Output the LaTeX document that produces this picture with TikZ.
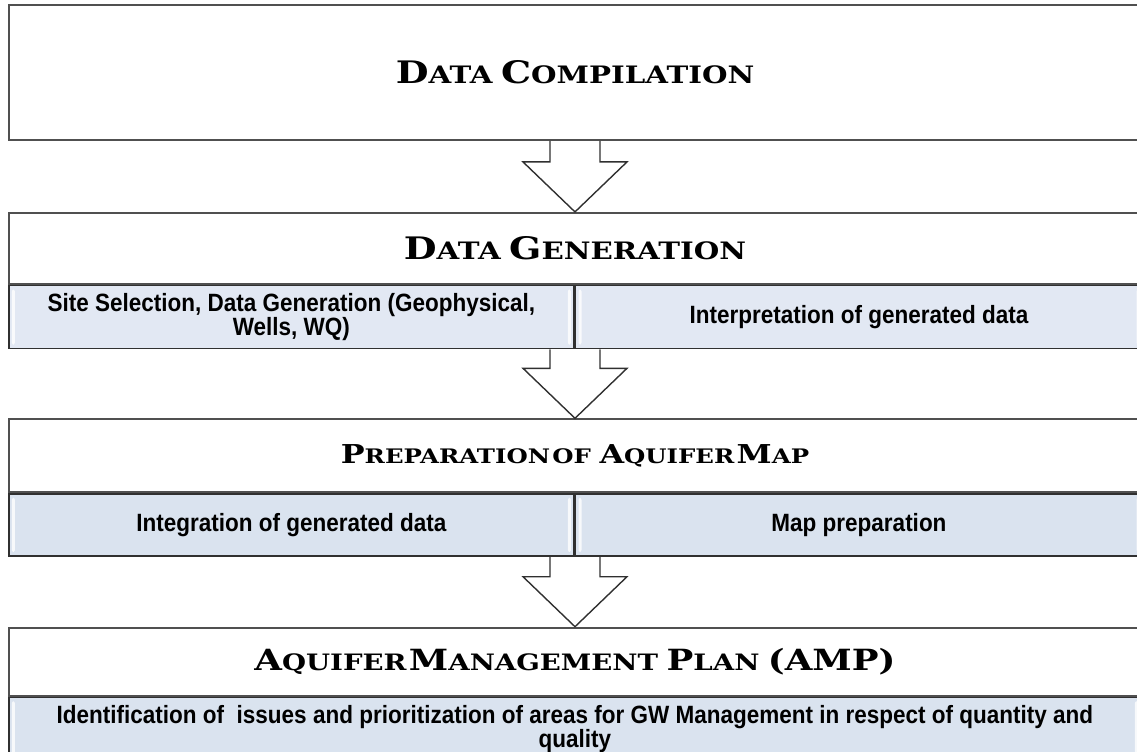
\documentclass[tikz,border=0pt]{standalone}
\usepackage{fontspec}
\setmainfont{Liberation Sans}
\newfontfamily\titlefont[FakeStretch=1.22]{DejaVu Serif}
\newfontfamily\cellfont[FakeStretch=0.9]{Liberation Sans}
\usetikzlibrary{positioning,calc}

\definecolor{boxline}{HTML}{505050}
\definecolor{cellline}{HTML}{303030}
\definecolor{cellblue}{HTML}{E2E8F3}
\definecolor{cellblueb}{HTML}{DAE3EF}

% small caps by hand: first letter large, rest smaller
\newcommand{\capbig}{15.5}
\newcommand{\capsm}{12}
\newcommand{\capword}[2]{{\fontsize{\capbig}{18}\selectfont #1}{\fontsize{\capsm}{14}\selectfont #2}}
\newcommand{\capsmall}[1]{{\fontsize{\capsm}{14}\selectfont #1}}
\newcommand{\tightsp}{\hspace{0.12em}}

% hollow block arrow from the bottom of one stage to the top of the next
\newcommand{\flowarrow}[2]{%
 \draw[blockarrow] ($(#1 -| #2)+(-25,0)$) |- ($(#2)+(-52,-50)$) -- (#2)
   -- ($(#2)+(52,-50)$) -| ($(#1 -| #2)+(25,0)$);}

\begin{document}
\begin{tikzpicture}[x=0.5pt,y=-0.5pt,
 stage/.style={draw=boxline,line width=0.9pt,fill=white,minimum width=566pt,
   inner sep=0pt,font=\titlefont\bfseries},
 prepstage/.style={stage,font={\titlefont\bfseries\def\capbig{13}\def\capsm{10}}},
 ampstage/.style={stage,font={\titlefont\bfseries\def\capbig{14.6}\def\capsm{11.3}}},
 cell/.style={draw=cellline,line width=0.8pt,fill=cellblue,inner sep=0pt,
   align=center,minimum height=31.5pt,
   font={\cellfont\bfseries\fontsize{12.5}{12}\selectfont},
   path picture={
    \fill[white,opacity=0.8,rounded corners=1pt]
      ($(path picture bounding box.north west)+(3,4)$) rectangle
      ($(path picture bounding box.south west)+(6,-4)$);
    \fill[white,opacity=0.8,rounded corners=1pt]
      ($(path picture bounding box.north east)+(-3,4)$) rectangle
      ($(path picture bounding box.south east)+(-6,-4)$);
   }},
 leftcell/.style={cell,minimum width=282.5pt},
 rightcell/.style={cell,minimum width=283.5pt},
 blockarrow/.style={draw=cellline,line width=0.7pt,line join=miter}]
 \useasboundingbox (0,0) rectangle (1137,751);
 \clip (0,0) rectangle (1137,751);
 %
 \node[stage,minimum height=67.5pt] (comp) at (575,72.5)
   {\capword{D}{ATA} \capword{C}{OMPILATION}};
 %
 \node[stage,minimum height=35.5pt,below=35.5pt of comp] (gen)
   {\capword{D}{ATA} \capword{G}{ENERATION}};
 \node[leftcell,anchor=north west] (genL) at (gen.south west)
   {Site Selection, Data Generation (Geophysical,\\Wells, WQ)};
 \node[rightcell,right=0pt of genL] (genR)
   {Interpretation of generated data};
 %
 \node[prepstage,minimum height=36.5pt,below right=34.5pt and 0pt of genL.south west] (prep)
   {\capword{P}{REPARATION}\tightsp\capsmall{OF} \capword{A}{QUIFER}\tightsp\capword{M}{AP}};
 \node[leftcell,fill=cellblueb,minimum height=31pt,anchor=north west] (prepL) at (prep.south west)
   {Integration of generated data};
 \node[rightcell,fill=cellblueb,minimum height=31pt,right=0pt of prepL] (prepR)
   {Map preparation};
 %
 \node[ampstage,minimum height=34pt,below right=35pt and 0pt of prepL.south west] (amp)
   {\capword{A}{QUIFER}\tightsp\capword{M}{ANAGEMENT} \capword{P}{LAN} \capword{(AMP)}{}};
 \node[cell,fill=cellblueb,minimum width=566pt,anchor=north west] (ampL) at (amp.south west)
   {Identification of\ \ issues and prioritization of areas for GW Management in respect of quantity and\\quality};
 %
 \flowarrow{comp.south}{gen.north}
 \flowarrow{genL.south east}{prep.north}
 \flowarrow{prepL.south east}{amp.north}
\end{tikzpicture}
\end{document}
